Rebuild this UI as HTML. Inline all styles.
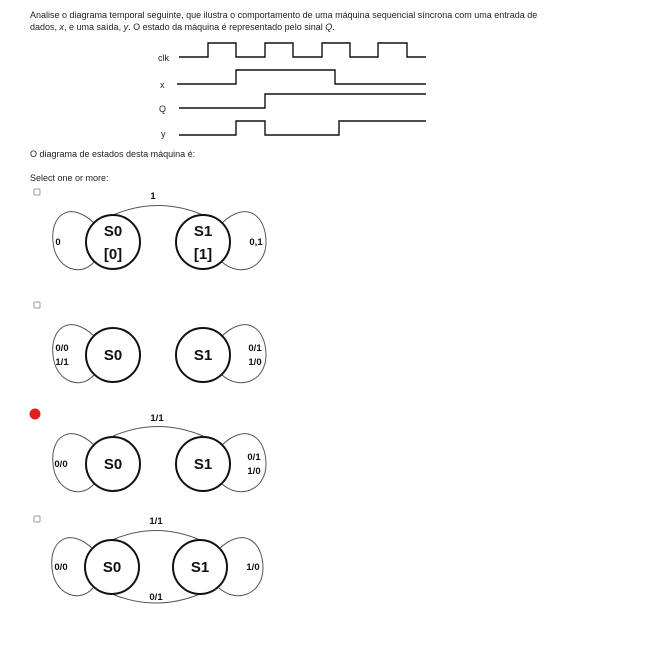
<!DOCTYPE html>
<html><head><meta charset="utf-8"><style>
body{margin:0;background:#fff;width:655px;height:650px;overflow:hidden;font-family:"Liberation Sans",sans-serif}
svg{position:absolute;left:0;top:0}
</style></head><body>
<svg width="655" height="650">
<g font-size="9" fill="#222">
<text x="30" y="18">Analise o diagrama temporal seguinte, que ilustra o comportamento de uma máquina sequencial síncrona com uma entrada de</text>
<text x="30" y="30">dados, <tspan font-style="italic">x</tspan>, e uma saída, <tspan font-style="italic">y</tspan>. O estado da máquina é representado pelo sinal <tspan font-style="italic">Q</tspan>.</text>
</g>
<g fill="none" stroke="#111" stroke-width="1.4">
<path d="M179 57H208V43H236V57H265V43H293V57H322V43H350V57H378V43H407V57H426"/>
<path d="M177 84H236V70H335V84H426"/>
<path d="M179 108H265V94H426"/>
<path d="M179 135H236V121H265V135H339V121H426"/>
</g>
<g font-size="9" fill="#222">
<text x="158" y="61">clk</text><text x="160" y="88">x</text><text x="159" y="112">Q</text><text x="161" y="137">y</text>
</g>
<text x="30" y="157" font-size="9" fill="#222">O diagrama de estados desta máquina é:</text>
<text x="30" y="181" font-size="9" fill="#222">Select one or more:</text>

<rect x="34" y="189" width="6" height="6" rx="1" fill="#fff" stroke="#999"/>
<rect x="34" y="302" width="6" height="6" rx="1" fill="#fff" stroke="#999"/>
<circle cx="35" cy="414" r="5.5" fill="#e02020"/>
<rect x="34" y="516" width="6" height="6" rx="1" fill="#fff" stroke="#999"/>

<g fill="none" stroke="#555" stroke-width="1">
<path d="M113 215 Q158 196 203 215"/>
<path d="M94 223 C70 200 50 215 53 242 C55 268 80 278 94 262"/>
<path d="M222 223 C246 200 266 215 266 242 C266 268 240 278 222 262"/>
<path d="M94 336 C70 313 50 328 53 355 C55 381 80 391 94 375"/>
<path d="M222 336 C246 313 266 328 266 355 C266 381 240 391 222 375"/>
<path d="M113 436 Q158 417 203 436"/>
<path d="M94 445 C70 422 50 437 53 464 C55 490 80 500 94 484"/>
<path d="M222 445 C246 422 266 437 266 464 C266 490 240 500 222 484"/>
<path d="M112 540 Q156 521 200 540"/>
<path d="M200 594 Q156 612 112 594"/>
<path d="M93 549 C69 526 49 541 52 568 C54 594 79 604 93 588"/>
<path d="M219 549 C243 526 263 541 263 568 C263 594 237 604 219 588"/>
</g>

<g fill="#fff" stroke="#111" stroke-width="2">
<circle cx="113" cy="242" r="27"/>
<circle cx="203" cy="242" r="27"/>
<circle cx="113" cy="355" r="27"/>
<circle cx="203" cy="355" r="27"/>
<circle cx="113" cy="464" r="27"/>
<circle cx="203" cy="464" r="27"/>
<circle cx="112" cy="567" r="27"/>
<circle cx="200" cy="567" r="27"/>
</g>

<g font-weight="bold" font-size="15" fill="#111" text-anchor="middle">
<text x="113" y="236">S0</text>
<text x="113" y="259">[0]</text>
<text x="203" y="236">S1</text>
<text x="203" y="259">[1]</text>
<text x="113" y="360">S0</text><text x="203" y="360">S1</text>
<text x="113" y="469">S0</text><text x="203" y="469">S1</text>
<text x="112" y="572">S0</text><text x="200" y="572">S1</text>
</g>
<g font-weight="bold" font-size="9.5" fill="#111" text-anchor="middle">
<text x="153" y="199">1</text>
<text x="58" y="245">0</text>
<text x="256" y="245">0,1</text>
<text x="62" y="351">0/0</text><text x="62" y="365">1/1</text>
<text x="255" y="351">0/1</text><text x="255" y="365">1/0</text>
<text x="157" y="421">1/1</text>
<text x="61" y="467">0/0</text>
<text x="254" y="460">0/1</text><text x="254" y="474">1/0</text>
<text x="156" y="524">1/1</text>
<text x="61" y="570">0/0</text>
<text x="253" y="570">1/0</text>
<text x="156" y="600">0/1</text>
</g>
</svg>
</body></html>
